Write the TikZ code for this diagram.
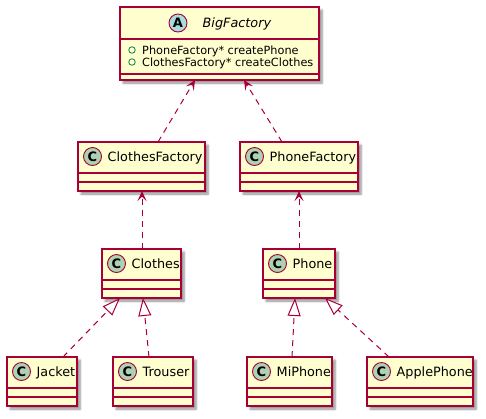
\documentclass[tikz,border=0pt]{standalone}
\usepackage{fontspec}
\setmainfont{DejaVu Sans}
\usetikzlibrary{arrows.meta, shadows.blur}
\definecolor{umlborder}{HTML}{A80036}
\definecolor{umlfill}{HTML}{FEFECE}
\definecolor{spotclass}{HTML}{ADD1B2}
\definecolor{spotabstract}{HTML}{A9DCDF}
\definecolor{umlpublic}{HTML}{038048}
\newcommand{\namefont}{\fontsize{12.8}{14}\selectfont}
\newcommand{\memberfont}{\fontsize{11.3}{13}\selectfont}
\tikzset{
  classbox/.style={draw=umlborder, fill=umlfill, line width=1.2pt, rectangle, inner sep=0pt, outer sep=0pt,
    minimum height=49pt, blur shadow={shadow xshift=3pt, shadow yshift=-3pt, shadow blur steps=6, shadow opacity=45}},
  classline/.style={draw=umlborder, line width=1.2pt},
  spot/.style={circle, draw=umlborder, line width=0.9pt, minimum size=18pt, inner sep=0pt, font=\fontsize{13}{13}\selectfont\bfseries},
  classname/.style={anchor=base west, inner sep=0pt, font=\namefont},
  dep/.style={draw=umlborder, line width=1pt, dash pattern=on 6pt off 5pt, -{Stealth[length=10pt, width=9pt, inset=4.5pt]}},
  impl/.style={draw=umlborder, line width=1pt, dash pattern=on 6pt off 5pt, -{Triangle[length=18pt, width=13pt, fill=white]}}
}
% one class box: name, left, top, right, label
\newcommand{\umlclass}[5]{%
  \node[classbox, minimum width={#4-#2}, anchor=north west] (#1) at (#2,#3) {};
  \draw[classline] ([yshift=-31pt]#1.north west) -- ([yshift=-31pt]#1.north east);
  \draw[classline] ([yshift=-40pt]#1.north west) -- ([yshift=-40pt]#1.north east);
  \node[spot, fill=spotclass] (#1spot) at ([xshift=14.5pt,yshift=-14.5pt]#1.north west) {C};
  \node[classname] (#1name) at ([xshift=29.5pt,yshift=-19.5pt]#1.north west) {#5};
}
\begin{document}
\begin{tikzpicture}[x=1pt, y=-1pt]
\useasboundingbox (0,0) rectangle (486,418);

% abstract factory
\node[classbox, minimum width=199pt, minimum height=73pt, anchor=north west] (bf) at (120,7) {};
\draw[classline] ([yshift=-32pt]bf.north west) -- ([yshift=-32pt]bf.north east);
\draw[classline] ([yshift=-67pt]bf.north west) -- ([yshift=-67pt]bf.north east);
\node[spot, fill=spotabstract] (bfspot) at (178,23) {A};
\node[classname, font=\namefont\itshape] (bfname) at (202.5,27.5) {BigFactory};
\node[circle, draw=umlpublic, line width=0.8pt, minimum size=6.5pt, inner sep=0pt] (bfvis1) at (132,50) {};
\node[circle, draw=umlpublic, line width=0.8pt, minimum size=6.5pt, inner sep=0pt] (bfvis2) at (132,62) {};
\node[anchor=base west, inner sep=0pt, font=\memberfont] (bfm1) at (142,54) {PhoneFactory* createPhone};
\node[anchor=base west, inner sep=0pt, font=\memberfont] (bfm2) at (142,66) {ClothesFactory* createClothes};

% factories
\umlclass{cf}{78}{142}{205}{ClothesFactory}
\umlclass{pf}{240}{142}{358}{PhoneFactory}

% products
\umlclass{clothes}{102}{249}{181}{Clothes}
\umlclass{phone}{263}{249}{335}{Phone}

% concrete products
\umlclass{jacket}{7}{357}{77}{Jacket}
\umlclass{trouser}{113}{357}{193}{Trouser}
\umlclass{miphone}{247}{357}{332}{MiPhone}
\umlclass{applephone}{367}{357}{473}{ApplePhone}

% dependencies
\draw[dep] ([xshift=16.5pt]cf.north) -- ([xshift=-24.5pt]bf.south);
\draw[dep] ([xshift=-17pt]pf.north) -- ([xshift=24.5pt]bf.south);
\draw[dep] ([xshift=0.5pt]clothes.north) -- ([xshift=0.5pt]cf.south);
\draw[dep] (phone.north) -- (pf.south);

% realizations
\draw[impl] ([xshift=21pt]jacket.north) -- ([xshift=-21.5pt]clothes.south);
\draw[impl] ([xshift=-4pt]trouser.north) -- ([xshift=1.5pt]clothes.south);
\draw[impl] ([xshift=2.5pt]miphone.north) -- ([xshift=-4pt]phone.south);
\draw[impl] ([xshift=-31pt]applephone.north) -- ([xshift=26pt]phone.south);
\end{tikzpicture}
\end{document}
